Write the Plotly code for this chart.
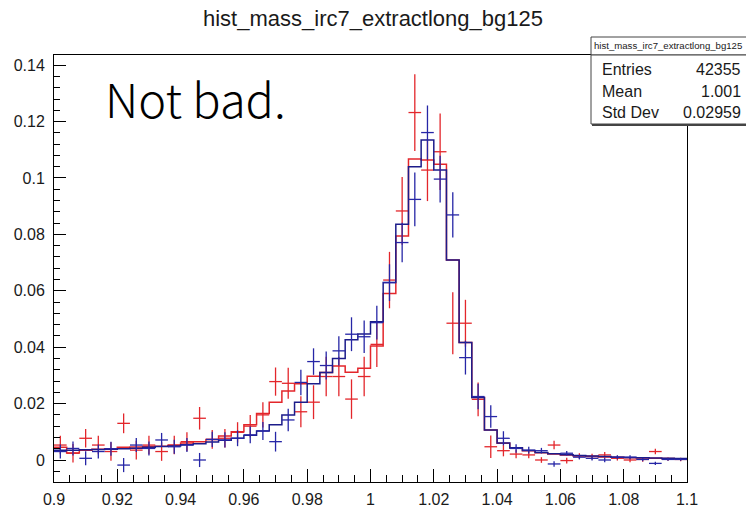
import numpy as np
import plotly.graph_objects as go

# ---------------- data ----------------
x_min, x_max, n_bins = 0.9, 1.1, 50
bin_w = (x_max - x_min) / n_bins

red_step = [0.0045, 0.0025, 0.0035, 0.0038, 0.0040, 0.0045, 0.0046, 0.0048, 0.0049, 0.0052,
            0.0060, 0.0065, 0.0073, 0.0085, 0.0100, 0.0125, 0.0165, 0.0205, 0.0245, 0.0270,
            0.0297, 0.0310, 0.0333, 0.0311, 0.0325, 0.0404, 0.0590, 0.0794, 0.1067, 0.1064,
            0.1049, 0.0709, 0.0417, 0.0222, 0.0106, 0.0059, 0.0042, 0.0033, 0.0026, 0.0021,
            0.0018, 0.0015, 0.0013, 0.0011, 0.0010, 0.0008, 0.0007, 0.0006, 0.0005, 0.0004]

blue_step = [0.0035, 0.0035, 0.0036, 0.0037, 0.0038, 0.0040, 0.0042, 0.0045, 0.0048, 0.0050,
             0.0054, 0.0058, 0.0064, 0.0070, 0.0077, 0.0088, 0.0103, 0.0125, 0.0160, 0.0205,
             0.0270, 0.0310, 0.0360, 0.0426, 0.0447, 0.0490, 0.0629, 0.0836, 0.1040, 0.1135,
             0.1028, 0.0709, 0.0417, 0.0222, 0.0106, 0.0060, 0.0043, 0.0034, 0.0027, 0.0022,
             0.0019, 0.0016, 0.0014, 0.0012, 0.0010, 0.0009, 0.0008, 0.0007, 0.0006, 0.0005]

red_pts = [0.0053, 0.0024, 0.0077, 0.0053, 0.0030, 0.0130, 0.0035, 0.0053, 0.0030, 0.0053,
           0.0065, 0.0148, 0.0073, 0.0077, 0.0098, 0.0120, 0.0160, 0.0278, 0.0272, 0.0171,
           0.0205, 0.0296, 0.0296, 0.0216, 0.0296, 0.0410, 0.0638, 0.0883, 0.1232, 0.1028,
           0.1093, 0.0485, 0.0485, 0.0215, 0.0047, 0.0033, 0.0021, 0.0018, 0.0000, 0.0053,
           -0.0002, 0.0014, 0.0012, 0.0018, 0.0006, 0.0000, 0.0002, 0.0030, 0.0003, 0.0002]

red_err = [0.0033, 0.0033, 0.0033, 0.0033, 0.0033, 0.0035, 0.0033, 0.0033, 0.0033, 0.0033,
           0.0033, 0.0040, 0.0033, 0.0033, 0.0036, 0.0040, 0.0045, 0.0050, 0.0055, 0.0055,
           0.0060, 0.0070, 0.0070, 0.0070, 0.0070, 0.0080, 0.0100, 0.0120, 0.0136, 0.0110,
           0.0136, 0.0110, 0.0083, 0.0060, 0.0040, 0.0020, 0.0015, 0.0012, 0.0010, 0.0015,
           0.0010, 0.0010, 0.0010, 0.0010, 0.0008, 0.0008, 0.0008, 0.0010, 0.0006, 0.0006]

blue_pts = [0.0030, 0.0041, 0.0006, 0.0030, 0.0040, -0.0018, 0.0053, 0.0041, 0.0071, 0.0047,
            0.0053, 0.0000, 0.0073, 0.0071, 0.0077, 0.0089, 0.0103, 0.0065, 0.0142, 0.0275,
            0.0349, 0.0335, 0.0387, 0.0446, 0.0437, 0.0487, 0.0629, 0.0771, 0.0924, 0.1161,
            0.0996, 0.0869, 0.0363, 0.0225, 0.0154, 0.0077, 0.0041, 0.0035, 0.0033, -0.0014,
            0.0024, 0.0010, 0.0006, 0.0000, 0.0010, 0.0010, 0.0002, -0.0012, 0.0002, 0.0002]

blue_err = [0.0025, 0.0025, 0.0025, 0.0025, 0.0025, 0.0025, 0.0025, 0.0025, 0.0025, 0.0025,
            0.0025, 0.0025, 0.0027, 0.0027, 0.0028, 0.0030, 0.0032, 0.0035, 0.0040, 0.0045,
            0.0047, 0.0050, 0.0052, 0.0060, 0.0058, 0.0060, 0.0065, 0.0070, 0.0095, 0.0096,
            0.0083, 0.0080, 0.0060, 0.0045, 0.0040, 0.0025, 0.0015, 0.0012, 0.0010, 0.0010,
            0.0008, 0.0008, 0.0008, 0.0008, 0.0007, 0.0007, 0.0006, 0.0006, 0.0005, 0.0005]

x_tickvals = [0.9, 0.92, 0.94, 0.96, 0.98, 1.0, 1.02, 1.04, 1.06, 1.08, 1.1]
x_ticktext = ["0.9", "0.92", "0.94", "0.96", "0.98", "1", "1.02", "1.04", "1.06", "1.08", "1.1"]
y_tickvals = [0, 0.02, 0.04, 0.06, 0.08, 0.1, 0.12, 0.14]
y_ticktext = ["0", "0.02", "0.04", "0.06", "0.08", "0.1", "0.12", "0.14"]

title_text = "hist_mass_irc7_extractlong_bg125"
stats_labels = ["Entries", "Mean", "Std Dev"]
stats_values = ["42355", "1.001", "0.02959"]
note_text = "Not bad."

# ---------------- geometry ----------------
W, H = 746, 508
L, R, T, B = 54, 687, 55, 482
edges = x_min + bin_w * np.arange(n_bins + 1)
centers = x_min + bin_w * (np.arange(n_bins) + 0.5)

RED = "#e3262b"
BLUE = "#2626a6"
BLUE_STEP = "#1c1c8a"
FONT = "Liberation Sans, Arial, sans-serif"


def px(x):
    return (x - L) / (R - L)


def py(y):
    return (B - y) / (B - T)


fig = go.Figure()


def add_step(vals, color, width):
    fig.add_trace(go.Scatter(x=edges, y=np.append(vals, vals[-1]), mode="lines",
                             line=dict(color=color, width=width, shape="hv"),
                             hoverinfo="skip", showlegend=False))


def add_pts(vals, errs, color):
    fig.add_trace(go.Scatter(x=centers, y=vals, mode="markers",
                             marker=dict(size=0.1, color=color, opacity=0),
                             error_y=dict(type="data", array=errs, visible=True,
                                          color=color, thickness=1.3, width=0),
                             error_x=dict(type="constant", value=bin_w / 2, visible=True,
                                          color=color, thickness=1.3, width=0),
                             hoverinfo="skip", showlegend=False))


add_step(red_step, RED, 1.5)
add_pts(red_pts, red_err, RED)
add_step(blue_step, BLUE_STEP, 1.5)
add_pts(blue_pts, blue_err, BLUE)

axis_common = dict(showline=True, linecolor="black", linewidth=1, mirror=True,
                   ticks="inside", tickcolor="black", tickwidth=1, showgrid=False,
                   zeroline=False, automargin=False,
                   tickfont=dict(family=FONT, size=16, color="#1a1a1a"))

fig.update_layout(
    width=W, height=H,
    margin=dict(l=L, r=W - R, t=T, b=H - B, pad=0, autoexpand=False),
    paper_bgcolor="white", plot_bgcolor="white",
    xaxis=dict(range=[x_min, x_max], tickmode="array", tickvals=x_tickvals,
               ticktext=x_ticktext, ticklen=13, ticklabelstandoff=3,
               minor=dict(dtick=0.005, tick0=0.9, ticklen=7, ticks="inside",
                          tickcolor="black", tickwidth=1, showgrid=False),
               **axis_common),
    yaxis=dict(range=[-0.0078, 0.1436], tickmode="array", tickvals=y_tickvals,
               ticktext=y_ticktext, ticklen=12, ticklabelstandoff=5,
               minor=dict(dtick=0.004, tick0=0.0, ticklen=6, ticks="inside",
                          tickcolor="black", tickwidth=1, showgrid=False),
               **axis_common),
    showlegend=False,
)

# title
fig.add_annotation(text=title_text, xref="paper", yref="paper",
                   x=px(373), y=py(19), xanchor="center", yanchor="middle",
                   showarrow=False, font=dict(family=FONT, size=22, color="#1a1a1a"))

# stats box
fig.add_shape(type="rect", xref="paper", yref="paper",
              x0=px(591), x1=px(770), y0=py(55), y1=py(37),
              line=dict(color="#444", width=1), fillcolor="white", layer="above")
fig.add_shape(type="rect", xref="paper", yref="paper",
              x0=px(591), x1=px(770), y0=py(124), y1=py(55),
              line=dict(color="#444", width=1), fillcolor="white", layer="above")
fig.add_shape(type="line", xref="paper", yref="paper",
              x0=px(592), x1=px(770), y0=py(125), y1=py(125),
              line=dict(color="#444", width=2), layer="above")
fig.add_annotation(text=title_text, xref="paper", yref="paper",
                   x=px(592), y=py(46), xanchor="left", yanchor="middle",
                   showarrow=False, font=dict(family=FONT, size=9.6, color="#1a1a1a"))
row_y = [69, 91, 112]
for lab, val, yy in zip(stats_labels, stats_values, row_y):
    fig.add_annotation(text=lab, xref="paper", yref="paper", x=px(600), y=py(yy),
                       xanchor="left", yanchor="middle", showarrow=False,
                       font=dict(family=FONT, size=16, color="#1a1a1a"))
    fig.add_annotation(text=val, xref="paper", yref="paper", x=px(743), y=py(yy),
                       xanchor="right", yanchor="middle", showarrow=False,
                       font=dict(family=FONT, size=16, color="#1a1a1a"))

# note text
fig.add_annotation(text=note_text, xref="paper", yref="paper", x=px(103), y=py(97),
                   xanchor="left", yanchor="middle", showarrow=False,
                   font=dict(family="Noto Sans CJK JP, Noto Sans, sans-serif", size=47,
                             color="black", weight=300))

fig.write_html("out.html")
